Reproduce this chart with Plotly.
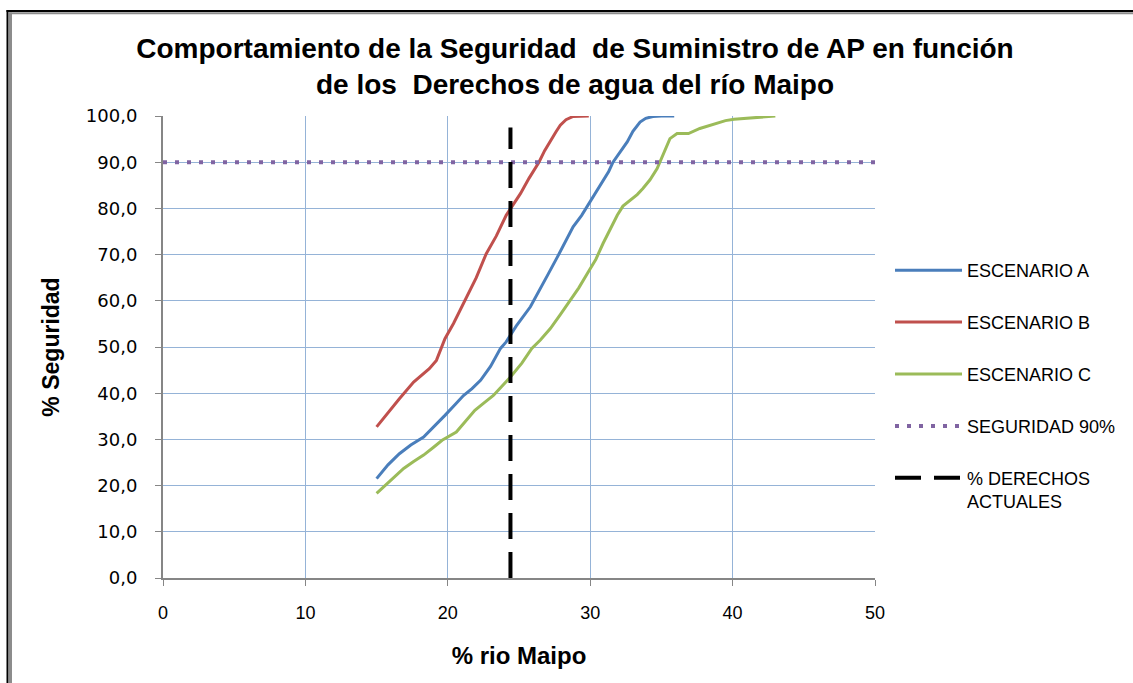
import plotly.graph_objects as go

# ---------------- data ----------------
esc_b_x = [15.0, 15.8, 16.6, 17.6, 18.7, 19.2, 19.8, 20.4, 21.2, 22.0, 22.7, 23.4, 24.1,
           25.1, 25.7, 26.4, 26.8, 27.2, 27.6, 27.9, 28.3, 28.8, 29.9]
esc_b_y = [32.7, 35.8, 38.8, 42.4, 45.3, 47.1, 51.8, 55.1, 60.1, 65.0, 70.2, 74.0, 78.5,
           83.2, 86.5, 90.0, 92.5, 94.7, 96.6, 98.0, 99.2, 99.9, 100.0]

esc_a_x = [15.0, 15.8, 16.6, 17.4, 18.3, 19.0, 19.8, 20.5, 21.1, 21.7, 22.3, 23.0, 23.7,
           24.1, 24.8, 25.8, 26.4, 27.0, 27.7, 28.3, 28.8, 29.4, 29.9, 30.4, 30.9, 31.3,
           31.6, 32.1, 32.6, 33.0, 33.5, 33.9, 34.4, 35.0, 35.9]
esc_a_y = [21.5, 24.5, 26.9, 28.8, 30.5, 32.6, 35.2, 37.5, 39.5, 41.0, 42.8, 45.8, 49.7,
           51.1, 54.5, 58.7, 62.0, 65.5, 69.5, 73.0, 76.0, 78.5, 81.0, 83.3, 85.7, 88.0,
           90.0, 92.3, 94.4, 96.7, 98.7, 99.5, 99.9, 100.0, 100.0]

esc_c_x = [15.0, 15.9, 16.9, 17.6, 18.3, 19.0, 19.6, 20.6, 21.3, 21.9, 22.5, 23.2, 23.8,
           24.4, 25.2, 25.9, 26.5, 27.2, 27.9, 28.6, 29.2, 29.8, 30.4, 30.9, 31.4, 31.9,
           32.3, 32.8, 33.3, 33.7, 34.2, 34.7, 35.0, 35.3, 35.6, 36.1, 36.9, 37.7, 38.3,
           38.9, 39.5, 40.1, 40.8, 41.5, 42.2, 43.0]
esc_c_y = [18.3, 20.8, 23.7, 25.2, 26.6, 28.3, 29.8, 31.6, 34.0, 36.3, 37.8, 39.5, 41.5,
           43.5, 46.5, 49.7, 51.5, 54.0, 57.0, 60.1, 62.8, 65.9, 69.0, 72.4, 75.5, 78.5,
           80.5, 81.8, 83.0, 84.3, 86.2, 88.6, 90.8, 92.6, 95.1, 96.2, 96.2, 97.3, 97.9,
           98.5, 99.0, 99.3, 99.5, 99.6, 99.8, 100.0]

seg90_x = [0, 50]
seg90_y = [90, 90]

derechos_x = [24.4, 24.4]
derechos_y = [0, 97.5]

y_tick_vals = [0, 10, 20, 30, 40, 50, 60, 70, 80, 90, 100]
y_tick_text = ["0,0", "10,0", "20,0", "30,0", "40,0", "50,0", "60,0", "70,0", "80,0", "90,0", "100,0"]
x_tick_vals = [0, 10, 20, 30, 40, 50]

names = ["ESCENARIO A", "ESCENARIO B", "ESCENARIO C", "SEGURIDAD 90%", "% DERECHOS<br>ACTUALES"]

# ---------------- figure ----------------
fig = go.Figure()
fig.add_trace(go.Scatter(x=esc_a_x, y=esc_a_y, mode="lines", name=names[0], legendgroup="a",
                         line=dict(color="#4A7EBB", width=3)))
fig.add_trace(go.Scatter(x=esc_b_x, y=esc_b_y, mode="lines", name=names[1], legendgroup="b",
                         line=dict(color="#C0504D", width=3)))
fig.add_trace(go.Scatter(x=esc_c_x, y=esc_c_y, mode="lines", name=names[2], legendgroup="c",
                         line=dict(color="#9BBB59", width=3)))
fig.add_trace(go.Scatter(x=seg90_x, y=seg90_y, mode="lines", name=names[3], legendgroup="d",
                         line=dict(color="#8064A2", width=4, dash="4px,8px")))
fig.add_trace(go.Scatter(x=derechos_x, y=derechos_y, mode="lines", name=names[4], legendgroup="e",
                         line=dict(color="#000000", width=4, dash="26px,13px")))

L, R, T, B = 163, 875, 116, 578
W, H = 1133, 683


def px(xp):
    return (xp - L) / (R - L)


def py(yp):
    return (B - yp) / (B - T)


fig.update_layout(
    width=W, height=H,
    margin=dict(l=L, r=W - R, t=T, b=H - B, pad=0),
    paper_bgcolor="white", plot_bgcolor="white",
    font=dict(family="Liberation Sans, Arial, sans-serif", color="black"),
    title=dict(
        text="<b>Comportamiento de la Seguridad  de Suministro de AP en función<br>de los  Derechos de agua del río Maipo</b>",
        x=575 / W, xref="container", xanchor="center",
        y=1 - 58 / H, yref="container", yanchor="top",
        font=dict(size=28, family="Liberation Sans, Arial, sans-serif", color="black"),
    ),
    showlegend=True,
    legend=dict(
        x=px(890), y=py(252), xanchor="left", yanchor="top",
        font=dict(size=18, family="Liberation Sans, Arial, sans-serif", color="black"),
        traceorder="grouped", tracegroupgap=25.5, itemwidth=67, valign="top",
        bgcolor="rgba(0,0,0,0)",
    ),
    xaxis=dict(
        range=[0, 50], tickvals=x_tick_vals, showgrid=True, gridcolor="#95B3D7", gridwidth=1,
        zeroline=False, showline=True, linecolor="#868686", linewidth=2,
        ticks="outside", ticklen=6, tickcolor="#868686", tickwidth=1,
        tickfont=dict(size=18, family="Liberation Sans, Arial, sans-serif"),
        ticklabelstandoff=11,
        title=dict(text="<b>% rio Maipo</b>", font=dict(size=24), standoff=26),
    ),
    yaxis=dict(
        range=[0, 100], tickvals=y_tick_vals, ticktext=y_tick_text, showgrid=True,
        gridcolor="#95B3D7", gridwidth=1, zeroline=False, showline=True,
        linecolor="#868686", linewidth=2, ticks="outside", ticklen=6,
        tickcolor="#868686", tickwidth=1,
        tickfont=dict(size=18, family="DejaVu Sans, sans-serif"),
        ticklabelstandoff=14,
        title=dict(text="<b>% Seguridad</b>", font=dict(size=23), standoff=20),
    ),
    shapes=[
        dict(type="line", xref="paper", yref="paper", x0=px(7.5), x1=px(7.5), y0=py(10), y1=py(H),
             line=dict(color="black", width=2)),
        dict(type="line", xref="paper", yref="paper", x0=px(10.5), x1=px(10.5), y0=py(12.5), y1=py(H),
             line=dict(color="#8C8C8C", width=3)),
        dict(type="line", xref="paper", yref="paper", x0=px(6.5), x1=px(W), y0=py(11), y1=py(11),
             line=dict(color="black", width=2)),
        dict(type="line", xref="paper", yref="paper", x0=px(9), x1=px(W), y0=py(13.3), y1=py(13.3),
             line=dict(color="#8C8C8C", width=2)),
    ],
)

fig.write_html("out.html")
